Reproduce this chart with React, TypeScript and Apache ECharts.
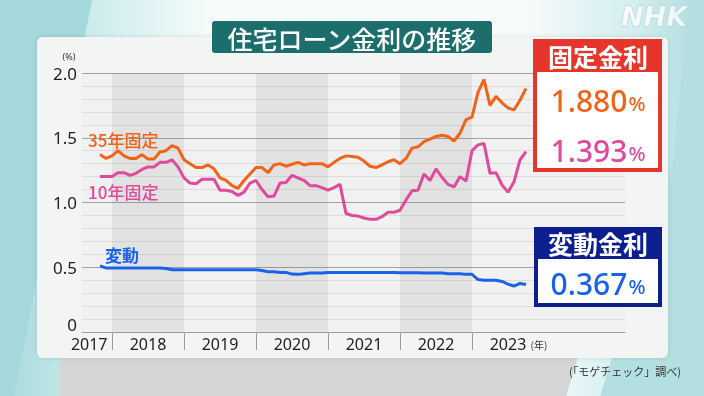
import React, { useEffect, useRef } from 'react';
import * as echarts from 'echarts';

// months are counted from Jan 2017 (0 = Jan 2017); first data point = Nov 2017
const START_MONTH = 10;

// 35年固定 (Nov 2017 – Oct 2023)
const rate35Fixed = [
  1.37, 1.34,
  1.36, 1.40, 1.36, 1.34, 1.34, 1.37, 1.335, 1.335, 1.39, 1.40, 1.44, 1.42,
  1.33, 1.30, 1.27, 1.27, 1.29, 1.26, 1.19, 1.17, 1.13, 1.11, 1.17, 1.22,
  1.27, 1.27, 1.23, 1.29, 1.30, 1.28, 1.295, 1.31, 1.29, 1.30, 1.30, 1.30,
  1.275, 1.31, 1.34, 1.36, 1.355, 1.35, 1.32, 1.28, 1.27, 1.29, 1.315, 1.33,
  1.30, 1.34, 1.42, 1.43, 1.47, 1.49, 1.51, 1.52, 1.51, 1.475, 1.535, 1.64,
  1.66, 1.85, 1.95, 1.75, 1.82, 1.77, 1.73, 1.715, 1.79, 1.88,
];

// 10年固定
const rate10Fixed = [
  1.20, 1.20,
  1.20, 1.23, 1.23, 1.21, 1.225, 1.255, 1.275, 1.275, 1.31, 1.31, 1.33, 1.275,
  1.19, 1.15, 1.145, 1.18, 1.18, 1.18, 1.095, 1.095, 1.085, 1.055, 1.08, 1.15,
  1.17, 1.10, 1.045, 1.05, 1.15, 1.155, 1.21, 1.19, 1.17, 1.13, 1.13, 1.115,
  1.095, 1.115, 1.14, 0.915, 0.90, 0.895, 0.88, 0.87, 0.87, 0.89, 0.925, 0.925,
  0.94, 1.02, 1.09, 1.095, 1.22, 1.17, 1.26, 1.195, 1.14, 1.12, 1.20, 1.165,
  1.40, 1.445, 1.455, 1.225, 1.23, 1.135, 1.08, 1.16, 1.33, 1.393,
];

// 変動
const rateVariable = [
  0.51, 0.495,
  0.495, 0.495, 0.495, 0.495, 0.495, 0.495, 0.495, 0.495, 0.495, 0.49, 0.48, 0.48,
  0.48, 0.48, 0.48, 0.48, 0.48, 0.48, 0.48, 0.48, 0.48, 0.48, 0.48, 0.48,
  0.48, 0.475, 0.465, 0.465, 0.46, 0.46, 0.447, 0.445, 0.45, 0.455, 0.455, 0.455,
  0.46, 0.46, 0.46, 0.46, 0.46, 0.46, 0.46, 0.46, 0.46, 0.46, 0.46, 0.46,
  0.457, 0.457, 0.457, 0.457, 0.455, 0.455, 0.455, 0.455, 0.45, 0.45, 0.45, 0.445,
  0.445, 0.405, 0.40, 0.40, 0.40, 0.39, 0.37, 0.355, 0.375, 0.367,
];

const yearLabels = ['2017', '2018', '2019', '2020', '2021', '2022', '2023'];
const yearLabelPositions = [8.2, 18, 30, 42, 54, 66, 78];
const yearBoundaries = [12, 24, 36, 48, 60, 72];
const shadedYears = [[12, 24], [36, 48], [60, 72]];

const latestFixed35 = '1.880';
const latestFixed10 = '1.393';
const latestVariable = '0.367';

const FONT = '"Noto Sans", "Noto Sans CJK JP", sans-serif';
const CJK = '"Noto Sans CJK JP", "Noto Sans", sans-serif';

const C_ORANGE = '#f2631a';
const C_PINK = '#df4a9c';
const C_BLUE = '#1a62ea';
const C_RED = '#e6362b';
const C_NAVY = '#0d1f8e';

const toPoints = (arr: number[]) => arr.map((v, i) => [START_MONTH + i, v]);

export default function App() {
  const ref = useRef<HTMLDivElement>(null);

  useEffect(() => {
    if (!ref.current) return;
    const chart = echarts.init(ref.current, undefined, { renderer: 'svg' });

    const txt = (text: string, x: number, y: number, font: string, fill: string, align = 'center', z = 60) => ({
      type: 'text',
      z,
      style: { text, x, y, font, fill, textAlign: align, textVerticalAlign: 'middle', verticalAlign: 'middle' },
    });

    const valueText = (value: string, y: number, color: string) => ({
      type: 'text',
      z: 60,
      style: {
        text: `{a|${value}}{b|%}`,
        x: 598,
        y,
        textAlign: 'center',
        textVerticalAlign: 'middle',
        verticalAlign: 'middle',
        rich: {
          a: { fontSize: 30, fontFamily: FONT, fill: color, color, fontWeight: 500 },
          b: { fontSize: 20, fontFamily: FONT, fill: color, color, fontWeight: 500, padding: [6, 0, 0, 1] },
        },
      },
    });

    const option: any = {
      animation: false,
      grid: {
        left: 82,
        right: 79,
        top: 73,
        bottom: 64,
        show: true,
        backgroundColor: '#f1f1f1',
        borderWidth: 0,
      },
      xAxis: {
        type: 'value',
        min: 7,
        max: 97.5,
        axisLine: { show: true, lineStyle: { color: '#9c9c9c', width: 1 } },
        axisTick: {
          show: true,
          customValues: yearBoundaries,
          length: 18,
          lineStyle: { color: '#9c9c9c', width: 1 },
        },
        axisLabel: {
          customValues: yearLabelPositions,
          formatter: (v: number) => {
            const idx = yearLabelPositions.findIndex((p) => Math.abs(p - v) < 0.01);
            return idx >= 0 ? yearLabels[idx] : '';
          },
          fontSize: 16,
          fontFamily: FONT,
          color: '#222',
          margin: 4,
        },
        splitLine: { show: false },
      },
      yAxis: {
        type: 'value',
        min: 0,
        max: 2,
        interval: 0.5,
        axisLine: { show: false },
        axisTick: { show: false },
        axisLabel: {
          fontSize: 17,
          fontFamily: FONT,
          color: '#222',
          margin: 5,
          formatter: (v: number) => (v === 0 ? '' : v.toFixed(1)),
        },
        splitLine: { show: true, lineStyle: { color: '#a3a3a3', width: 1 } },
        minorTick: { show: false, splitNumber: 5 },
        minorSplitLine: { show: true, lineStyle: { color: '#dddddd', width: 1 } },
      },
      series: [
        {
          name: '変動',
          type: 'line',
          data: toPoints(rateVariable),
          showSymbol: false,
          lineStyle: { color: C_BLUE, width: 3 },
          z: 3,
          markArea: {
            silent: true,
            itemStyle: { color: 'rgba(0,0,0,0.06)' },
            data: shadedYears.map(([a, b]) => [
              { xAxis: a, yAxis: 0 },
              { xAxis: b, yAxis: 2 },
            ]),
          },
        },
        {
          name: '10年固定',
          type: 'line',
          data: toPoints(rate10Fixed),
          showSymbol: false,
          lineStyle: { color: C_PINK, width: 3 },
          z: 4,
        },
        {
          name: '35年固定',
          type: 'line',
          data: toPoints(rate35Fixed),
          showSymbol: false,
          lineStyle: { color: C_ORANGE, width: 3 },
          z: 5,
        },
      ],
      graphic: [
        // background
        {
          type: 'rect',
          z: -20,
          shape: { x: 0, y: 0, width: 704, height: 396 },
          style: {
            fill: new echarts.graphic.LinearGradient(0, 0, 1, 0, [
              { offset: 0, color: '#a8d9dc' },
              { offset: 0.15, color: '#d2eeef' },
              { offset: 0.3, color: '#f6fbfb' },
              { offset: 0.75, color: '#f6fbfb' },
              { offset: 0.9, color: '#d3eeef' },
              { offset: 1, color: '#aedcdf' },
            ]),
          },
        },
        {
          type: 'polygon',
          z: -19,
          shape: { points: [[0, 0], [92, 0], [14, 396], [0, 396]] },
          style: { fill: '#a5d8db' },
        },
        {
          type: 'polygon',
          z: -19,
          shape: { points: [[690, 0], [704, 0], [704, 396], [600, 396], [672, 170]] },
          style: { fill: '#b3dfe1' },
        },
        {
          type: 'polygon',
          z: -18,
          shape: { points: [[60, 357], [578, 357], [566, 396], [60, 396]] },
          style: { fill: '#d5d5d5' },
        },
        {
          type: 'rect',
          z: -17,
          shape: { x: 37, y: 37, width: 631, height: 321, r: 6 },
          style: { fill: '#f3f5f5', shadowBlur: 4, shadowColor: 'rgba(0,0,0,0.12)' },
        },
        // NHK logo
        {
          type: 'text',
          z: 5,
          style: {
            text: 'NHK',
            x: 654,
            y: 16,
            font: 'italic bold 27px "DejaVu Sans", sans-serif',
            fill: 'rgba(255,255,255,0.75)',
            stroke: 'rgba(175,195,200,0.7)',
            lineWidth: 1,
            textAlign: 'center',
            textVerticalAlign: 'middle',
            verticalAlign: 'middle',
          },
        },
        // title
        {
          type: 'rect',
          z: 40,
          shape: { x: 212, y: 21, width: 280, height: 32, r: 3 },
          style: { fill: '#1b6e6b' },
        },
        txt('住宅ローン金利の推移', 352, 37.5, `500 25px ${CJK}`, '#ffffff'),
        // unit labels and zero tick label
        txt('(%)', 69, 56, `9px ${FONT}`, '#333', 'center'),
        txt('(年)', 539, 344, `10px ${CJK}`, '#333', 'center'),
        txt('0', 72, 324, `17px ${FONT}`, '#222', 'center'),
        // series labels
        txt('35年固定', 88, 139.5, `500 17px ${CJK}`, C_ORANGE, 'left'),
        txt('10年固定', 88, 191, `500 17px ${CJK}`, C_PINK, 'left'),
        txt('変動', 105, 254.5, `bold 17px ${CJK}`, C_BLUE, 'left'),
        // fixed rate box
        {
          type: 'rect',
          z: 50,
          shape: { x: 535, y: 41, width: 125, height: 129 },
          style: { fill: '#ffffff', stroke: C_RED, lineWidth: 4 },
        },
        {
          type: 'rect',
          z: 51,
          shape: { x: 533, y: 39, width: 129, height: 33 },
          style: { fill: C_RED },
        },
        txt('固定金利', 598, 56, `bold 25px ${CJK}`, '#ffffff'),
        valueText(latestFixed35, 100, C_ORANGE),
        valueText(latestFixed10, 150, C_PINK),
        // variable rate box
        {
          type: 'rect',
          z: 50,
          shape: { x: 536, y: 229, width: 124, height: 76 },
          style: { fill: '#ffffff', stroke: C_NAVY, lineWidth: 4 },
        },
        {
          type: 'rect',
          z: 51,
          shape: { x: 534, y: 227, width: 128, height: 32 },
          style: { fill: C_NAVY },
        },
        txt('変動金利', 598, 243, `bold 25px ${CJK}`, '#ffffff'),
        valueText(latestVariable, 283, C_BLUE),
        // source
        txt('(「モゲチェック」調べ)', 625, 371, `11px ${CJK}`, '#333', 'center'),
      ],
    };

    chart.setOption(option);
    return () => chart.dispose();
  }, []);

  return (
    <div
      ref={ref}
      style={{ position: 'fixed', left: 0, top: 0, width: 704, height: 396 }}
    />
  );
}
